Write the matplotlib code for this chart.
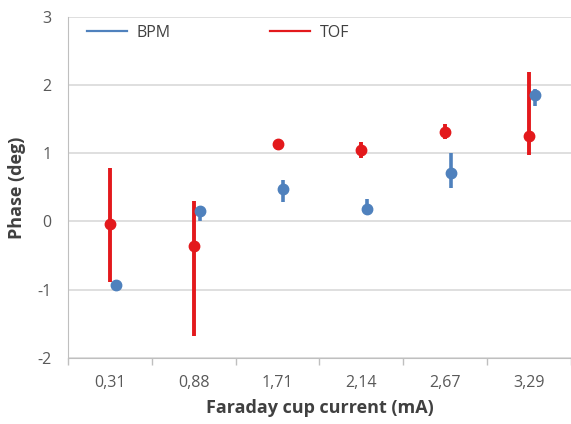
import matplotlib
matplotlib.use('Agg')
import matplotlib.pyplot as plt
from matplotlib.lines import Line2D
import numpy as np

currents = ['0,31', '0,88', '1,71', '2,14', '2,67', '3,29']

bpm = [-0.93, 0.15, 0.47, 0.19, 0.71, 1.86]
bpm_lo = [-1.00, 0.00, 0.28, 0.13, 0.49, 1.69]
bpm_hi = [-0.86, 0.23, 0.61, 0.33, 1.00, 1.95]

tof = [-0.03, -0.36, 1.13, 1.05, 1.31, 1.26]
tof_lo = [-0.89, -1.68, 1.05, 0.93, 1.21, 0.97]
tof_hi = [0.79, 0.30, 1.20, 1.16, 1.43, 2.20]

BLUE = '#4f81bd'
RED = '#e3191c'

plt.rcParams['font.family'] = ['Open Sans', 'DejaVu Sans']
plt.rcParams['axes.unicode_minus'] = False

fig = plt.figure(figsize=(5.71, 4.24), dpi=100)
ax = fig.add_axes([0.119, 0.156, 0.881, 0.804])

x = np.arange(len(currents))
tof_err = [np.array(tof) - np.array(tof_lo), np.array(tof_hi) - np.array(tof)]
bpm_err = [np.array(bpm) - np.array(bpm_lo), np.array(bpm_hi) - np.array(bpm)]

ax.errorbar(x, tof, yerr=tof_err, fmt='o', color=RED, ms=7.5, elinewidth=2.8,
            capsize=0, zorder=3)
ax.errorbar(x + 0.07, bpm, yerr=bpm_err, fmt='o', color=BLUE, ms=7.5, elinewidth=2.6,
            capsize=0, zorder=4)

ax.set_xlim(-0.5, len(currents) - 0.5)
ax.set_ylim(-2, 3)
ax.set_yticks(range(-2, 4))
ax.set_xticks(x)
ax.set_xticklabels(currents)
ax.set_xticks(np.arange(-0.5, len(currents)), minor=True)
ax.tick_params(axis='x', which='major', length=0, pad=12)
ax.tick_params(axis='x', which='minor', length=5, color='#bfbfbf', width=1)
ax.tick_params(axis='y', length=0, pad=12)
ax.tick_params(labelsize=11.5, labelcolor='#595959')

ax.grid(axis='y', color='#d9d9d9', linewidth=1.2)
ax.set_axisbelow(True)
for s in ['top', 'right']:
    ax.spines[s].set_visible(False)
ax.spines['left'].set_color('#bfbfbf')
ax.spines['bottom'].set_color('#bfbfbf')

ax.set_xlabel('Faraday cup current (mA)', fontsize=13, fontweight='bold', color='#404040', labelpad=6)
ax.set_ylabel('Phase (deg)', fontsize=13, fontweight='bold', color='#404040', labelpad=8)

# legend shows plain lines, as in the original
handles = [Line2D([], [], color=BLUE, lw=1.6), Line2D([], [], color=RED, lw=1.6)]
ax.legend(handles, ['BPM', 'TOF'], ncol=2, loc='upper left', frameon=False,
          fontsize=11.5, labelcolor='#404040', handlelength=2.5, handletextpad=0.6,
          columnspacing=6.2, bbox_to_anchor=(0.01, 1.02))

fig.savefig('out.png', dpi=100)
